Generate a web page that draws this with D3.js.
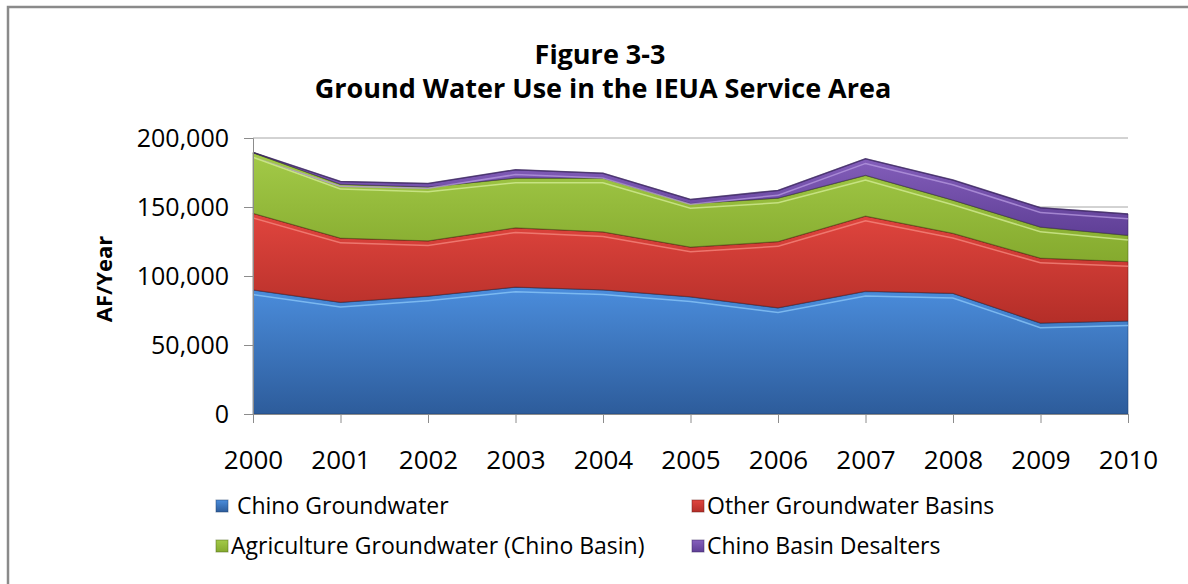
<!DOCTYPE html>
<html>
<head>
<meta charset="utf-8">
<script src="https://cdn.jsdelivr.net/npm/d3@7"></script>
<style>
  body { margin: 0; background: #fff; }
  text { font-family: "Open Sans", "Noto Sans", sans-serif; fill: #000; }
</style>
</head>
<body>
<div id="chart"></div>
<script>
var years = [2000, 2001, 2002, 2003, 2004, 2005, 2006, 2007, 2008, 2009, 2010];
var chinoGroundwater = [90000, 81000, 85500, 92000, 90000, 85000, 77000, 89000, 87500, 66000, 67500];
var otherBasins = [55500, 46500, 40000, 43000, 42000, 36000, 48000, 54500, 43500, 47000, 43000];
var agriculture = [44000, 39000, 39000, 36000, 39000, 31500, 31500, 29500, 24000, 22500, 19000];
var desalters = [0, 2000, 2500, 6000, 3500, 3000, 5500, 12000, 14500, 14000, 15500];
var seriesNames = [" Chino Groundwater", "Other Groundwater Basins", "Agriculture Groundwater (Chino Basin)", "Chino Basin Desalters"];
var yTicks = [0, 50000, 100000, 150000, 200000];

var width = 1188;
var height = 584;
var margin = {left: 253, right: 60, top: 138, bottom: 170};

var svg = d3.select("#chart").append("svg").attr("width", width).attr("height", height);

// outer frame of the chart
svg.append("rect")
    .attr("x", 8).attr("y", 7)
    .attr("width", 1190).attr("height", 600)
    .attr("fill", "none")
    .attr("stroke", "#8a8a8a")
    .attr("stroke-width", 2.5);

var x = d3.scaleLinear().domain([2000, 2010]).range([margin.left, width - margin.right]);
var y = d3.scaleLinear().domain([0, 200000]).range([height - margin.bottom, margin.top]);

var table = years.map(function(yr, i) {
  return {year: yr, s0: chinoGroundwater[i], s1: otherBasins[i], s2: agriculture[i], s3: desalters[i]};
});
var stack = d3.stack().keys(["s0", "s1", "s2", "s3"]);
var layers = stack(table);

var fills = [
  {top: "#4b8ddc", bottom: "#2d5c9b", light: "#8cc8f8", edge: "#1f3f6e"},
  {top: "#e0453e", bottom: "#b42e28", light: "#f58a80", edge: "#6e1c18"},
  {top: "#a3ca48", bottom: "#85aa2e", light: "#d6ee98", edge: "#4e6619"},
  {top: "#8660bd", bottom: "#5f3f96", light: "#b79ae0", edge: "#3a2560"}
];

var defs = svg.append("defs");
fills.forEach(function(f, i) {
  var grad = defs.append("linearGradient")
      .attr("id", "grad" + i)
      .attr("x1", 0).attr("y1", 0).attr("x2", 0).attr("y2", 1);
  grad.append("stop").attr("offset", "0%").attr("stop-color", f.top);
  grad.append("stop").attr("offset", "100%").attr("stop-color", f.bottom);
});

// gridlines
svg.append("g").selectAll("line")
    .data(yTicks.slice(1))
    .enter().append("line")
      .attr("x1", margin.left).attr("x2", width - margin.right)
      .attr("y1", function(d) { return y(d); })
      .attr("y2", function(d) { return y(d); })
      .attr("stroke", "#a6a6a6")
      .attr("stroke-width", 1);

var area = d3.area()
    .x(function(d) { return x(d.data.year); })
    .y0(function(d) { return y(d[0]); })
    .y1(function(d) { return y(d[1]); });

var topLine = d3.line()
    .x(function(d) { return x(d.data.year); })
    .y(function(d) { return y(d[1]); });

var layerG = svg.append("g");
layers.forEach(function(layer, i) {
  defs.append("clipPath").attr("id", "clip" + i)
    .append("path").attr("d", area(layer));

  layerG.append("path")
      .attr("d", area(layer))
      .attr("fill", "url(#grad" + i + ")")
      .attr("stroke", fills[i].edge)
      .attr("stroke-opacity", 0.55)
      .attr("stroke-width", 1);

  // bevel highlight along the top edge
  layerG.append("path")
      .attr("d", topLine(layer))
      .attr("clip-path", "url(#clip" + i + ")")
      .attr("transform", "translate(0,4)")
      .attr("fill", "none")
      .attr("stroke", fills[i].light)
      .attr("stroke-opacity", 0.75)
      .attr("stroke-width", 3);
  layerG.append("path")
      .attr("d", topLine(layer))
      .attr("fill", "none")
      .attr("stroke", fills[i].edge)
      .attr("stroke-opacity", 0.7)
      .attr("stroke-width", 1.5);
});

// axes
var yAxis = d3.axisLeft(y).tickValues(yTicks).tickSize(9).tickPadding(15)
    .tickFormat(d3.format(","));
var xAxis = d3.axisBottom(x).tickValues(years).tickSize(9).tickPadding(28)
    .tickFormat(d3.format("d"));

var gy = svg.append("g")
    .attr("transform", "translate(" + margin.left + ",0)")
    .call(yAxis);
var gx = svg.append("g")
    .attr("transform", "translate(0," + y(0) + ")")
    .call(xAxis);

[gx, gy].forEach(function(g) {
  g.select(".domain").attr("stroke", "#8c8c8c");
  g.selectAll(".tick line").attr("stroke", "#8c8c8c");
  g.selectAll("text").attr("font-size", 25).attr("font-family", "Open Sans").attr("fill", "#111");
});
gx.selectAll("text").attr("font-size", 26);

// titles
svg.append("text")
    .attr("x", 600).attr("y", 64)
    .attr("text-anchor", "middle")
    .attr("font-size", 27).attr("font-weight", "bold")
    .text("Figure 3-3");
svg.append("text")
    .attr("x", 603).attr("y", 98)
    .attr("text-anchor", "middle")
    .attr("font-size", 27).attr("font-weight", "bold")
    .text("Ground Water Use in the IEUA Service Area");

svg.append("text")
    .attr("transform", "translate(112,279) rotate(-90)")
    .attr("text-anchor", "middle")
    .attr("font-size", 22).attr("font-weight", "bold")
    .text("AF/Year");

// legend
var legendPos = [[222, 506], [698, 506], [222, 546], [698, 546]];
var legend = svg.append("g").selectAll("g")
    .data(seriesNames)
    .enter().append("g")
      .attr("transform", function(d, i) { return "translate(" + legendPos[i][0] + "," + legendPos[i][1] + ")"; });

legend.append("rect")
    .attr("x", -6).attr("y", -6)
    .attr("width", 12).attr("height", 12)
    .attr("fill", function(d, i) { return "url(#grad" + i + ")"; })
    .attr("stroke", function(d, i) { return fills[i].edge; })
    .attr("stroke-opacity", 0.5);

legend.append("text")
    .attr("x", 9)
    .attr("dy", "0.35em")
    .attr("font-size", 23)
    .style("white-space", "pre")
    .text(function(d) { return d; });
</script>
</body>
</html>
